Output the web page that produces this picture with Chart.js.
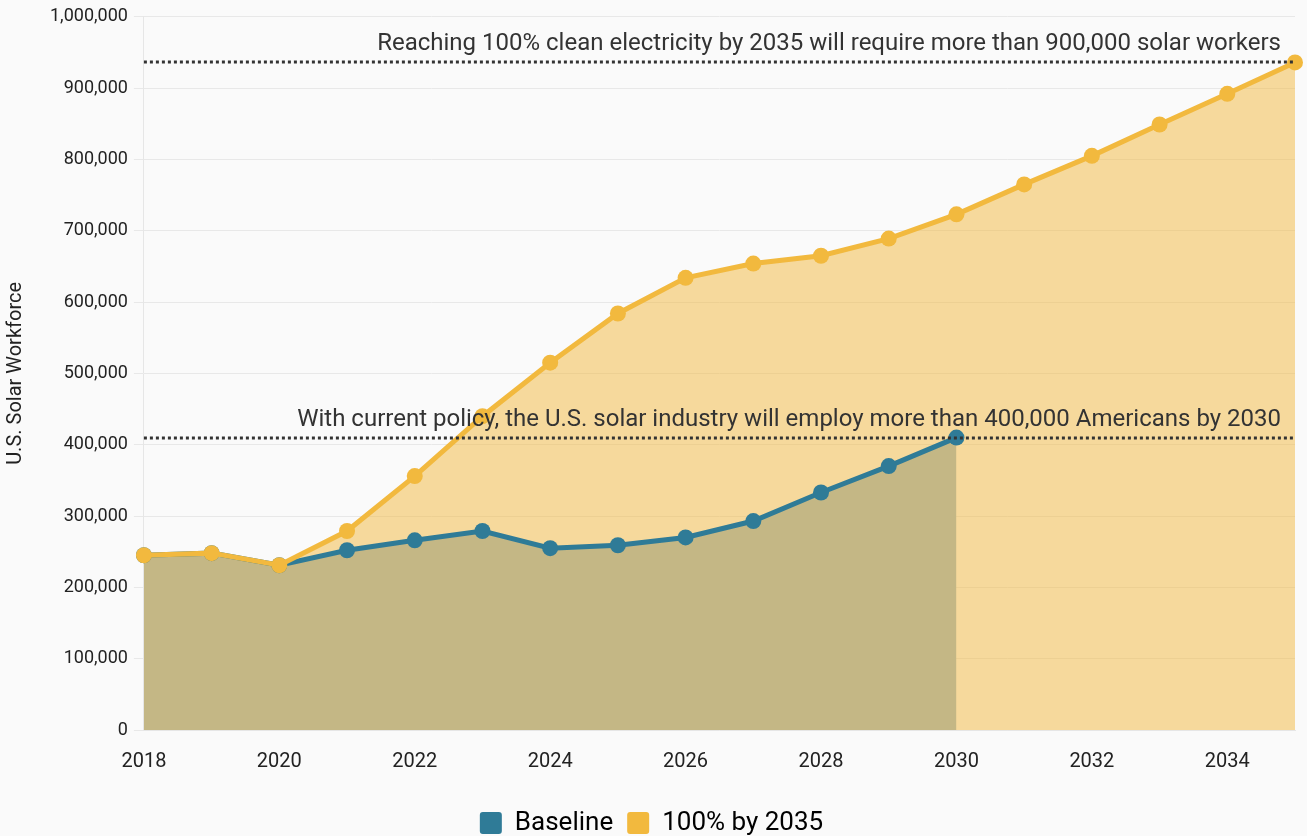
<!DOCTYPE html>
<html>
<head>
<meta charset="utf-8">
<script src="https://cdn.jsdelivr.net/npm/chart.js@4"></script>
<style>
  html, body { margin: 0; padding: 0; background: #fafafa; }
  #wrap { width: 1307px; height: 836px; }
</style>
</head>
<body>
<div id="wrap"><canvas id="solarChart" width="1307" height="836"></canvas></div>
<script>
var years = ['2018','2019','2020','2021','2022','2023','2024','2025','2026','2027','2028','2029','2030','2031','2032','2033','2034','2035'];
var baseline = [245000, 248000, 231000, 252000, 266000, 279000, 255000, 259000, 270000, 293000, 333000, 370000, 410000, null, null, null, null, null];
var cleanBy2035 = [245000, 248000, 231000, 279000, 356000, 440000, 515000, 584000, 634000, 654000, 665000, 689000, 723000, 765000, 805000, 849000, 892000, 936000];
var yTicks = [0, 100000, 200000, 300000, 400000, 500000, 600000, 700000, 800000, 900000, 1000000];
var notes = [
  { value: 936000, text: 'Reaching 100% clean electricity by 2035 will require more than 900,000 solar workers' },
  { value: 410000, text: 'With current policy, the U.S. solar industry will employ more than 400,000 Americans by 2030' }
];

var noteLines = {
  id: 'noteLines',
  afterLayout: function(chart) {
    // legend sits a bit lower in the original
    chart.legend.top += 10;
    chart.legend.bottom += 10;
  },
  afterDatasetsDraw: function(chart) {
    var ctx = chart.ctx;
    var area = chart.chartArea;
    var y = chart.scales.y;
    ctx.save();
    for (var i = 0; i < notes.length; i++) {
      var py = Math.round(y.getPixelForValue(notes[i].value));
      ctx.beginPath();
      ctx.setLineDash([3, 3]);
      ctx.lineWidth = 3;
      ctx.strokeStyle = '#333';
      ctx.moveTo(area.left, py);
      ctx.lineTo(area.right, py);
      ctx.stroke();
      ctx.setLineDash([]);
      ctx.fillStyle = '#333';
      ctx.font = '24px Roboto';
      ctx.textAlign = 'right';
      ctx.textBaseline = 'alphabetic';
      ctx.fillText(notes[i].text, area.right - 14, py - 12);
    }
    ctx.restore();
  }
};

new Chart(document.getElementById('solarChart'), {
  type: 'line',
  data: {
    labels: years,
    datasets: [
      {
        label: 'Baseline', data: baseline, order: 2,
        borderColor: '#2f7b97', backgroundColor: 'rgb(150,182,204)',
        borderWidth: 5, pointRadius: 8, pointBackgroundColor: '#2f7b97', pointBorderWidth: 0,
        fill: 'origin', tension: 0
      },
      {
        label: '100% by 2035', data: cleanBy2035, order: 1,
        borderColor: '#f2b93e', backgroundColor: 'rgba(242,184,62,0.5)',
        borderWidth: 5, pointRadius: 8, pointBackgroundColor: '#f2b93e', pointBorderWidth: 0,
        fill: 'origin', tension: 0
      }
    ]
  },
  options: {
    responsive: false,
    animation: false,
    layout: { padding: { top: 8, right: 4, left: 0, bottom: 0 } },
    plugins: {
      filler: { drawTime: 'beforeDatasetsDraw' },
      tooltip: { enabled: false },
      legend: {
        position: 'bottom',
        labels: {
          sort: function(a, b) { return a.datasetIndex - b.datasetIndex; },
          boxWidth: 22, boxHeight: 22, padding: 14,
          color: '#333',
          font: { family: 'Roboto', size: 26 },
          generateLabels: function(chart) {
            return chart.data.datasets.map(function(ds, i) {
              return { text: ds.label, fillStyle: ds.borderColor, strokeStyle: ds.borderColor, lineWidth: 0, datasetIndex: i, borderRadius: 3 };
            });
          }
        }
      }
    },
    scales: {
      x: {
        grid: { display: false },
        border: { color: '#e6e6e6' },
        ticks: {
          autoSkip: false, maxRotation: 0, color: '#222', padding: 12,
          font: { family: 'Roboto', size: 20 },
          callback: function(v, i) { return i % 2 === 0 ? years[i] : ''; }
        }
      },
      y: {
        min: 0, max: 1000000,
        afterBuildTicks: function(scale) { scale.ticks = yTicks.map(function(v) { return { value: v }; }); },
        grid: { color: '#e8e8e8', tickLength: 10 },
        border: { color: '#e6e6e6' },
        title: { display: true, text: 'U.S. Solar Workforce', color: '#222', font: { family: 'Roboto', size: 20 }, padding: { bottom: 16 } },
        ticks: {
          color: '#222', padding: 6,
          font: { family: 'Roboto', size: 18 },
          callback: function(v) { return v.toLocaleString('en-US'); }
        }
      }
    }
  },
  plugins: [noteLines]
});
</script>
</body>
</html>
